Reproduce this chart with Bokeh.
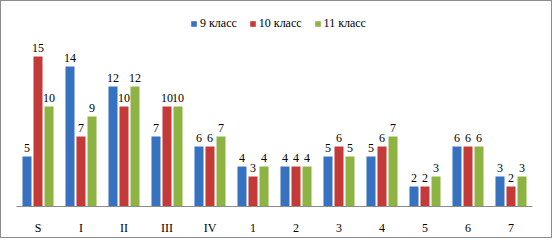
from bokeh.plotting import figure
from bokeh.models import ColumnDataSource, Legend, LegendItem, FactorRange, Range1d
from bokeh.transform import dodge
from bokeh.core.properties import value
from bokeh.embed import file_html
from bokeh.resources import INLINE

categories = ["S", "I", "II", "III", "IV", "1", "2", "3", "4", "5", "6", "7"]
grade9 = [5, 14, 12, 7, 6, 4, 4, 5, 5, 2, 6, 3]
grade10 = [15, 7, 10, 10, 6, 3, 4, 6, 6, 2, 6, 2]
grade11 = [10, 9, 12, 10, 7, 4, 4, 5, 7, 3, 6, 3]
series_names = ["9 класс", "10 класс", "11 класс"]
colors = ["#3672BF", "#C33A39", "#8DB443"]

src = ColumnDataSource(dict(cat=categories, g9=grade9, g10=grade10, g11=grade11,
                            l9=[str(v) for v in grade9], l10=[str(v) for v in grade10],
                            l11=[str(v) for v in grade11]))

FONT = "Liberation Serif"

p = figure(x_range=FactorRange(*categories, range_padding=0), y_range=Range1d(0, 19.5),
           frame_width=516, frame_height=195, output_backend="svg", toolbar_location=None,
           min_border_left=15, min_border_right=19, min_border_top=10, min_border_bottom=31)
p.styles = {"border": "1px solid #8c8c8c"}
p.outline_line_color = None
p.grid.visible = False
p.yaxis.visible = False
p.xaxis.axis_line_color = "#8c8c8c"
p.xaxis.major_tick_line_color = None
p.xaxis.minor_tick_line_color = None
p.xaxis.major_label_text_font = FONT
p.xaxis.major_label_text_font_size = "12px"
p.xaxis.major_label_text_color = "#000000"
p.xaxis.major_label_standoff = 8

offsets = [-0.256, 0.0, 0.256]
fields = ["g9", "g10", "g11"]
lfields = ["l9", "l10", "l11"]
renderers = []
for f, lf, off, c in zip(fields, lfields, offsets, colors):
    r = p.vbar(x=dodge("cat", off, range=p.x_range), top=f, width=0.21, source=src,
               fill_color=c, line_color=None)
    renderers.append(r)
    p.text(x=dodge("cat", off, range=p.x_range), y=f, text=lf, source=src,
           text_align="center", text_baseline="bottom", y_offset=-5,
           text_font=value(FONT), text_font_size="12px", text_color="#000000")

legend = Legend(items=[LegendItem(label=n, renderers=[r]) for n, r in zip(series_names, renderers)],
                orientation="horizontal", location=(174, 175), padding=0, margin=0,
                spacing=12, label_standoff=3, glyph_width=7, glyph_height=7,
                label_text_font=FONT, label_text_font_size="12px", label_text_color="#000000",
                border_line_color=None, background_fill_alpha=0)
p.add_layout(legend, "center")

open("out.html", "w").write(file_html(p, INLINE))
